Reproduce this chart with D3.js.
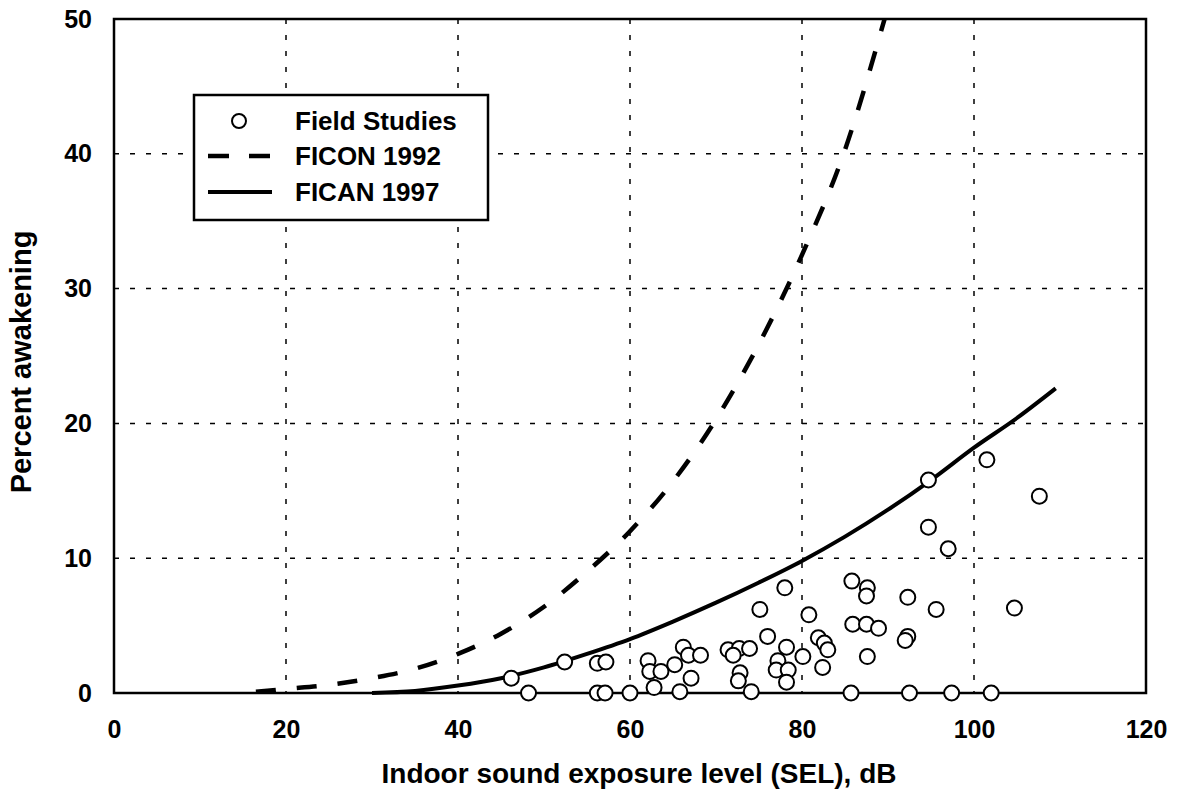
<!DOCTYPE html>
<html>
<head>
<meta charset="utf-8">
<script src="https://cdn.jsdelivr.net/npm/d3@7"></script>
<style>
  html, body { margin: 0; padding: 0; background: #fff; }
  #chart { width: 1180px; height: 789px; }
  text { font-family: "Liberation Sans", Arial, Helvetica, sans-serif; font-weight: bold; fill: #000; }
</style>
</head>
<body>
<div id="chart"></div>
<script>
// Field studies: indoor SEL (dB) vs percent awakening
const fieldSel = [46.2, 48.2, 52.4, 56.2, 57.2, 56.2, 57.1, 60.0, 62.1, 62.3, 63.6, 62.8, 65.2, 66.2, 66.8,
    68.2, 67.1, 65.8, 71.4, 72.7, 73.9, 72.0, 72.8, 72.6, 74.1, 75.1, 76.0, 78.0, 78.2, 77.2,
    77.0, 78.4, 78.2, 80.1, 80.8, 81.9, 82.6, 83.0, 82.4, 85.8, 87.6, 87.5, 85.9, 87.5, 88.9,
    87.6, 92.3, 92.3, 92.0, 94.7, 94.7, 97.0, 95.6, 101.5, 107.6, 104.7, 85.7, 92.5, 97.4, 102.0];
const fieldAwake = [1.1, 0.0, 2.3, 2.2, 2.3, 0.0, 0.0, 0.0, 2.4, 1.6, 1.6, 0.4, 2.1, 3.4, 2.8,
    2.8, 1.1, 0.1, 3.2, 3.3, 3.3, 2.8, 1.5, 0.9, 0.1, 6.2, 4.2, 7.8, 3.4, 2.4,
    1.7, 1.7, 0.8, 2.7, 5.8, 4.1, 3.7, 3.2, 1.9, 8.3, 7.8, 7.2, 5.1, 5.1, 4.8,
    2.7, 7.1, 4.2, 3.9, 15.8, 12.3, 10.7, 6.2, 17.3, 14.6, 6.3, 0.0, 0.0, 0.0, 0.0];

// FICON 1992 curve
const ficonSel = [16.5, 20, 25, 30, 35, 40, 45, 50, 55, 60, 65, 70, 75, 80, 85, 89.6];
const ficonAwake = [0.1, 0.3, 0.6, 1.1, 1.8, 2.9, 4.4, 6.4, 9.0, 12.0, 15.7, 20.3, 25.9, 32.5, 40.3, 50];

// FICAN 1997 curve
const ficanSel = [30, 35, 40, 45, 50, 55, 60, 65, 70, 75, 80, 85, 90, 95, 100, 105, 109.5];
const ficanAwake = [0, 0.15, 0.55, 1.1, 1.9, 2.9, 4.0, 5.3, 6.7, 8.2, 9.8, 11.6, 13.6, 15.8, 18.2, 20.4, 22.6];

const xTicks = [0, 20, 40, 60, 80, 100, 120];
const yTicks = [0, 10, 20, 30, 40, 50];
const legendLabels = ['Field Studies', 'FICON 1992', 'FICAN 1997'];

const width = 1180;
const height = 789;
const plot = { left: 114, right: 1146, top: 19, bottom: 693 };

const svg = d3.select('#chart')
    .append('svg')
    .attr('width', width)
    .attr('height', height);

const x = d3.scaleLinear().domain([0, 120]).range([plot.left, plot.right]);
const y = d3.scaleLinear().domain([0, 50]).range([plot.bottom, plot.top]);

// Dotted grid
svg.append('g')
    .selectAll('line')
    .data(xTicks.slice(1, -1))
    .enter()
    .append('line')
    .attr('x1', d => x(d)).attr('x2', d => x(d))
    .attr('y1', plot.top).attr('y2', plot.bottom)
    .attr('stroke', '#000')
    .attr('stroke-width', 1.5)
    .attr('stroke-dasharray', '5,11');

svg.append('g')
    .selectAll('line')
    .data(yTicks.slice(1, -1))
    .enter()
    .append('line')
    .attr('x1', plot.left).attr('x2', plot.right)
    .attr('y1', d => y(d)).attr('y2', d => y(d))
    .attr('stroke', '#000')
    .attr('stroke-width', 1.5)
    .attr('stroke-dasharray', '5,11');

// Frame
svg.append('rect')
    .attr('x', plot.left)
    .attr('y', plot.top)
    .attr('width', plot.right - plot.left)
    .attr('height', plot.bottom - plot.top)
    .attr('fill', 'none')
    .attr('stroke', '#000')
    .attr('stroke-width', 2.5);

// Axes (labels only, no tick marks)
const xAxis = svg.append('g')
    .attr('transform', `translate(0,${plot.bottom})`)
    .call(d3.axisBottom(x).tickValues(xTicks).tickSize(0).tickPadding(27));
xAxis.select('.domain').remove();
xAxis.selectAll('text')
    .style('font-size', '25px')
    .style('font-family', '"Liberation Sans", Arial, sans-serif')
    .style('font-weight', 'bold');

const yAxis = svg.append('g')
    .attr('transform', `translate(${plot.left},0)`)
    .call(d3.axisLeft(y).tickValues(yTicks).tickSize(0).tickPadding(22));
yAxis.select('.domain').remove();
yAxis.selectAll('text')
    .style('font-size', '25px')
    .style('font-family', '"Liberation Sans", Arial, sans-serif')
    .style('font-weight', 'bold');

// Curves
const ficonData = ficonSel.map((s, i) => ({ s, a: ficonAwake[i] }));
const ficanData = ficanSel.map((s, i) => ({ s, a: ficanAwake[i] }));

const line = d3.line()
    .x(d => x(d.s))
    .y(d => y(d.a))
    .curve(d3.curveMonotoneX);

svg.append('path')
    .datum(ficonData)
    .attr('fill', 'none')
    .attr('stroke', '#000')
    .attr('stroke-width', 4.5)
    .attr('stroke-dasharray', '20,21')
    .attr('d', line);

svg.append('path')
    .datum(ficanData)
    .attr('fill', 'none')
    .attr('stroke', '#000')
    .attr('stroke-width', 4)
    .attr('d', line);

// Field study points
const points = fieldSel.map((s, i) => ({ s, a: fieldAwake[i] }));
svg.append('g')
    .selectAll('circle')
    .data(points)
    .enter()
    .append('circle')
    .attr('cx', d => x(d.s))
    .attr('cy', d => y(d.a))
    .attr('r', 7.5)
    .attr('fill', '#fff')
    .attr('stroke', '#000')
    .attr('stroke-width', 2);

// Legend
const legend = svg.append('g');
legend.append('rect')
    .attr('x', 194).attr('y', 95)
    .attr('width', 294).attr('height', 125)
    .attr('fill', '#fff')
    .attr('stroke', '#000')
    .attr('stroke-width', 2.5);

const rowY = [121, 156, 192];
legend.append('circle')
    .attr('cx', 239).attr('cy', rowY[0]).attr('r', 7)
    .attr('fill', '#fff').attr('stroke', '#000').attr('stroke-width', 2);
legend.append('line')
    .attr('x1', 208).attr('x2', 272).attr('y1', rowY[1]).attr('y2', rowY[1])
    .attr('stroke', '#000').attr('stroke-width', 4.5).attr('stroke-dasharray', '21,20');
legend.append('line')
    .attr('x1', 208).attr('x2', 272).attr('y1', rowY[2]).attr('y2', rowY[2])
    .attr('stroke', '#000').attr('stroke-width', 4);

legend.selectAll('text')
    .data(legendLabels)
    .enter()
    .append('text')
    .attr('x', 295)
    .attr('y', (d, i) => rowY[i])
    .attr('dy', '0.36em')
    .style('font-size', '26px')
    .text(d => d);

// Axis titles
svg.append('text')
    .attr('x', 639)
    .attr('y', 783)
    .attr('text-anchor', 'middle')
    .style('font-size', '28px')
    .text('Indoor sound exposure level (SEL), dB');

svg.append('text')
    .attr('transform', `translate(31,362) rotate(-90)`)
    .attr('text-anchor', 'middle')
    .style('font-size', '29px')
    .text('Percent awakening');
</script>
</body>
</html>
